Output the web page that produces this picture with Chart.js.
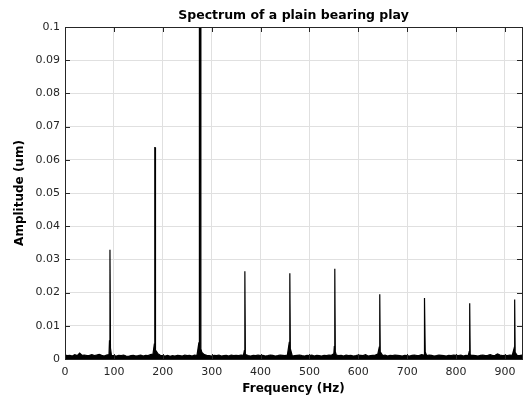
<!DOCTYPE html>
<html lang="en">
<head>
    <meta charset="UTF-8">
    <title>Spectrum of a plain bearing play</title>
    <script src="https://cdn.jsdelivr.net/npm/chart.js"></script>
    <style>
        body {
            margin: 0;
            padding: 0;
            background: #fff;
            overflow: hidden;
        }
        #wrap {
            width: 524px;
            height: 396px;
        }
    </style>
</head>
<body>
    <div id="wrap">
        <canvas id="spectrum"></canvas>
    </div>

    <script>
        // noise floor, one value every 5 Hz starting at 0 Hz (um)
        const binWidth = 5;
        const noiseAmp = [
            0.0012, 0.0010, 0.0011, 0.0009, 0.0013, 0.0010, 0.0018, 0.0011, 0.0012, 0.0010,
            0.0011, 0.0013, 0.0010, 0.0012, 0.0014, 0.0011, 0.0009, 0.0012, 0.0013, 0.0011,
            0.0010, 0.0009, 0.0011, 0.0010, 0.0012, 0.0009, 0.0008, 0.0010, 0.0011, 0.0009,
            0.0010, 0.0012, 0.0009, 0.0011, 0.0010, 0.0013, 0.0015, 0.0019, 0.0016, 0.0011,
            0.0010, 0.0009, 0.0011, 0.0008, 0.0010, 0.0009, 0.0011, 0.0010, 0.0009, 0.0012,
            0.0010, 0.0011, 0.0009, 0.0012, 0.0010, 0.0014, 0.0020, 0.0013, 0.0011, 0.0010,
            0.0009, 0.0011, 0.0010, 0.0012, 0.0009, 0.0010, 0.0011, 0.0009, 0.0012, 0.0010,
            0.0011, 0.0010, 0.0012, 0.0011, 0.0013, 0.0010, 0.0009, 0.0011, 0.0010, 0.0012,
            0.0010, 0.0011, 0.0009, 0.0010, 0.0012, 0.0011, 0.0009, 0.0010, 0.0012, 0.0011,
            0.0010, 0.0012, 0.0011, 0.0009, 0.0010, 0.0011, 0.0012, 0.0010, 0.0009, 0.0011,
            0.0010, 0.0012, 0.0009, 0.0011, 0.0010, 0.0009, 0.0011, 0.0010, 0.0012, 0.0011,
            0.0016, 0.0012, 0.0010, 0.0011, 0.0009, 0.0012, 0.0010, 0.0011, 0.0009, 0.0010,
            0.0012, 0.0011, 0.0010, 0.0013, 0.0009, 0.0010, 0.0011, 0.0012, 0.0015, 0.0011,
            0.0010, 0.0012, 0.0009, 0.0011, 0.0010, 0.0012, 0.0011, 0.0010, 0.0009, 0.0011,
            0.0010, 0.0009, 0.0011, 0.0012, 0.0010, 0.0011, 0.0013, 0.0011, 0.0010, 0.0012,
            0.0011, 0.0009, 0.0010, 0.0012, 0.0011, 0.0010, 0.0009, 0.0011, 0.0010, 0.0012,
            0.0011, 0.0010, 0.0012, 0.0009, 0.0011, 0.0010, 0.0012, 0.0011, 0.0010, 0.0009,
            0.0011, 0.0012, 0.0010, 0.0011, 0.0013, 0.0010, 0.0011, 0.0015, 0.0012, 0.0010,
            0.0011, 0.0010, 0.0012, 0.0011, 0.0014, 0.0011, 0.0010, 0.0012
        ];

        // harmonic peaks: frequency (Hz), peak amplitude, skirt height at the base (um)
        // and the width of the flat top in Hz
        const peakFreq = [92, 184, 276, 368, 460, 552, 644, 736, 828, 920];
        const peakAmp = [0.0329, 0.0637, 0.1040, 0.0264, 0.0258, 0.0272, 0.0195, 0.0184, 0.0168, 0.0179];
        const peakSkirt = [0.0055, 0.0045, 0.0050, 0.0025, 0.0052, 0.0037, 0.0036, 0.0035, 0.0022, 0.0033];
        const peakTop = [0, 0.5, 2, 0, 0, 0, 0, 0, 0, 0];

        const xTicks = [0, 100, 200, 300, 400, 500, 600, 700, 800, 900];
        const yTicks = [0, 0.01, 0.02, 0.03, 0.04, 0.05, 0.06, 0.07, 0.08, 0.09, 0.1];
        const chartTitle = 'Spectrum of a plain bearing play';

        // merge floor and peaks into one trace, sorted by frequency
        const points = noiseAmp.map((a, i) => ({ x: i * binWidth, y: a }));
        peakFreq.forEach((f, i) => {
            const h = peakTop[i] / 2;
            points.push({ x: f - h - 1, y: peakSkirt[i] });
            points.push({ x: f - h, y: peakAmp[i] });
            if (h > 0) points.push({ x: f + h, y: peakAmp[i] });
            points.push({ x: f + h + 1, y: peakSkirt[i] * 0.6 });
        });
        points.sort((a, b) => a.x - b.x);

        const fontFamily = '"DejaVu Sans", Verdana, sans-serif';
        const axisColor = '#262626';

        // box around the plot with inward tick marks, title centred over the axes
        const frame = {
            id: 'frame',
            afterDraw(chart) {
                const ctx = chart.ctx;
                const a = chart.chartArea;
                const xs = chart.scales.x;
                const ys = chart.scales.y;
                const len = 5;
                ctx.save();
                ctx.strokeStyle = axisColor;
                ctx.lineWidth = 1;
                ctx.beginPath();
                xTicks.forEach(v => {
                    const px = Math.round(xs.getPixelForValue(v)) + 0.5;
                    ctx.moveTo(px, a.bottom);
                    ctx.lineTo(px, a.bottom - len);
                    ctx.moveTo(px, a.top);
                    ctx.lineTo(px, a.top + len);
                });
                yTicks.forEach(v => {
                    const py = Math.round(ys.getPixelForValue(v)) + 0.5;
                    ctx.moveTo(a.left, py);
                    ctx.lineTo(a.left + len, py);
                    ctx.moveTo(a.right, py);
                    ctx.lineTo(a.right - len, py);
                });
                ctx.stroke();
                ctx.strokeRect(Math.round(a.left) + 0.5, Math.round(a.top) + 0.5,
                    Math.round(a.right - a.left), Math.round(a.bottom - a.top));

                ctx.fillStyle = '#000';
                ctx.font = 'bold 12.5px ' + fontFamily;
                ctx.textAlign = 'center';
                ctx.textBaseline = 'middle';
                ctx.fillText(chartTitle, (a.left + a.right) / 2, 16);
                ctx.restore();
            }
        };

        new Chart(document.getElementById('spectrum').getContext('2d'), {
            type: 'line',
            data: {
                datasets: [{
                    data: points,
                    borderColor: '#000',
                    backgroundColor: '#000',
                    borderWidth: 1.2,
                    pointRadius: 0,
                    fill: 'origin',
                    tension: 0
                }]
            },
            options: {
                responsive: true,
                maintainAspectRatio: false,
                animation: false,
                layout: { padding: { left: 0, right: 2, top: 27, bottom: 0 } },
                plugins: {
                    legend: { display: false },
                    tooltip: { enabled: false },
                    title: { display: false }
                },
                scales: {
                    x: {
                        type: 'linear',
                        min: 0,
                        max: 935,
                        afterFit: s => { s.height = 37; },
                        afterBuildTicks: s => { s.ticks = xTicks.map(v => ({ value: v })); },
                        grid: { color: '#e0e0e0', drawTicks: false },
                        border: { display: false },
                        ticks: {
                            color: axisColor,
                            padding: 7,
                            maxRotation: 0,
                            font: { family: fontFamily, size: 11 }
                        },
                        title: {
                            display: true,
                            text: 'Frequency (Hz)',
                            color: '#000',
                            font: { family: fontFamily, size: 12, weight: 'bold' },
                            padding: { top: 0, bottom: 0 }
                        }
                    },
                    y: {
                        min: 0,
                        max: 0.1,
                        afterFit: s => { s.width = 65; },
                        afterBuildTicks: s => { s.ticks = yTicks.map(v => ({ value: v })); },
                        grid: { color: '#e0e0e0', drawTicks: false },
                        border: { display: false },
                        ticks: {
                            color: axisColor,
                            padding: 5,
                            font: { family: fontFamily, size: 11 },
                            callback: v => String(Math.round(v * 100) / 100)
                        },
                        title: {
                            display: true,
                            text: 'Amplitude (um)',
                            color: '#000',
                            font: { family: fontFamily, size: 12, weight: 'bold' },
                            padding: { top: 13, bottom: 0 }
                        }
                    }
                }
            },
            plugins: [frame]
        });
    </script>
</body>
</html>
